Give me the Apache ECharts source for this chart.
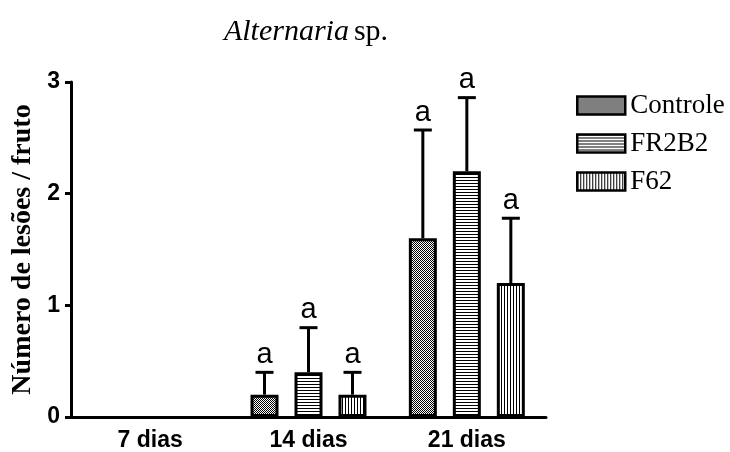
<!DOCTYPE html>
<html>
<head>
<meta charset="utf-8">
<script src="https://cdn.jsdelivr.net/npm/echarts@6/dist/echarts.min.js"></script>
<style>
  html, body { margin: 0; padding: 0; background: #fff; }
  #chart { width: 730px; height: 452px; }
</style>
</head>
<body>
<div id="chart"></div>
<script>
// Lesion counts per fruit, by treatment and day
const categories = ['7 dias', '14 dias', '21 dias'];
const seriesNames = ['Controle', 'FR2B2', 'F62'];
const controle = [0, 0.2, 1.6];
const controleErr = [0, 0.2, 0.97];
const fr2b2 = [0, 0.4, 2.2];
const fr2b2Err = [0, 0.4, 0.66];
const f62 = [0, 0.2, 1.2];
const f62Err = [0, 0.2, 0.58];
const letters = ['', 'a', 'a'];
const yTicks = [0, 1, 2, 3];

const means = [controle, fr2b2, f62];
const errs = [controleErr, fr2b2Err, f62Err];

const SERIF = '"Liberation Serif", "Times New Roman", serif';
const SANS = '"Liberation Sans", Arial, sans-serif';

const BAR_W = 28;
const BAR_GAP = 16 / 28;   // fraction of bar width between neighbouring bars
const STEP = BAR_W * (1 + BAR_GAP);

// Fill patterns for the three treatments
function makePattern(kind) {
  const c = document.createElement('canvas');
  const ctx = c.getContext('2d');
  if (kind === 'check') {
    c.width = 2; c.height = 2;
    ctx.fillStyle = '#fff'; ctx.fillRect(0, 0, 2, 2);
    ctx.fillStyle = '#000';
    ctx.fillRect(0, 0, 1, 1); ctx.fillRect(1, 1, 1, 1);
  } else if (kind === 'hlines') {
    c.width = 4; c.height = 3;
    ctx.fillStyle = '#fff'; ctx.fillRect(0, 0, 4, 3);
    ctx.fillStyle = '#000'; ctx.fillRect(0, 0, 4, 1);
  } else {
    c.width = 3; c.height = 4;
    ctx.fillStyle = '#fff'; ctx.fillRect(0, 0, 3, 4);
    ctx.fillStyle = '#000'; ctx.fillRect(0, 0, 1, 4);
  }
  return { image: c, repeat: 'repeat' };
}
const patterns = [makePattern('check'), makePattern('hlines'), makePattern('vlines')];

const barSeries = seriesNames.map((name, i) => ({
  name: name,
  type: 'bar',
  // empty bars get no outline so nothing is drawn on the axis
  data: means[i].map(v => (v ? v : { value: v, itemStyle: { borderWidth: 0 } })),
  barWidth: BAR_W,
  barGap: (BAR_GAP * 100).toFixed(1) + '%',
  itemStyle: { color: patterns[i], borderColor: '#000', borderWidth: 3 },
  emphasis: { disabled: true },
  z: 2
}));

// Upper error bars with significance letters
const errSeries = seriesNames.map((name, i) => ({
  type: 'custom',
  silent: true,
  z: 3,
  data: categories.map((c, k) => [k, means[i][k], errs[i][k]]),
  renderItem: function (params, api) {
    const k = api.value(0);
    const m = api.value(1);
    const e = api.value(2);
    if (!e) return null;
    const base = api.coord([k, m]);
    const top = api.coord([k, m + e]);
    const x = base[0] + (i - 1) * STEP;
    const style = { stroke: '#000', lineWidth: 3 };
    return {
      type: 'group',
      children: [
        { type: 'line', shape: { x1: x, y1: base[1], x2: x, y2: top[1] }, style: style },
        { type: 'line', shape: { x1: x - 9, y1: top[1], x2: x + 9, y2: top[1] }, style: style },
        { type: 'text', style: {
            x: x, y: top[1] - 3, text: letters[k],
            fill: '#000', font: '29px ' + SANS,
            textAlign: 'center', textVerticalAlign: 'bottom'
          } }
      ]
    };
  }
}));

const chart = echarts.init(document.getElementById('chart'), null, { renderer: 'canvas' });
chart.setOption({
  animation: false,
  backgroundColor: '#fff',
  title: {
    text: '{i|Alternaria} {n|sp.}',
    left: 301, textAlign: 'center', top: 12,
    textStyle: {
      fontWeight: 'normal',
      rich: {
        i: { fontFamily: SERIF, fontStyle: 'italic', fontWeight: 'normal', fontSize: 30, color: '#000' },
        n: { fontFamily: SERIF, fontWeight: 'normal', fontSize: 30, color: '#000' }
      }
    }
  },
  legend: {
    orient: 'vertical',
    left: 576, top: 92,
    padding: 0,
    itemWidth: 48, itemHeight: 18,
    itemGap: 11,
    icon: 'rect',
    data: seriesNames,
    selectedMode: false,
    textStyle: { fontFamily: SERIF, fontSize: 27, color: '#000' },
    itemStyle: { borderWidth: 2.5, borderColor: '#000' }
  },
  grid: { left: 71, right: 184, top: 82, bottom: 34, containLabel: false },
  xAxis: {
    type: 'category',
    data: categories,
    z: 10,
    axisLine: { lineStyle: { color: '#000', width: 3 } },
    axisTick: { alignWithLabel: true, length: 7, lineStyle: { color: '#000', width: 3 } },
    axisLabel: { color: '#000', fontFamily: SANS, fontWeight: 'bold', fontSize: 23, margin: 12 }
  },
  yAxis: {
    type: 'value',
    min: 0, max: 3, interval: 1,
    name: 'Número de lesões / fruto',
    nameLocation: 'middle',
    nameGap: 33,
    nameTextStyle: { fontFamily: SERIF, fontWeight: 'bold', fontSize: 28, color: '#000' },
    splitLine: { show: false },
    axisLine: { show: true, onZero: false, lineStyle: { color: '#000', width: 3 } },
    axisTick: { show: true, length: 6, lineStyle: { color: '#000', width: 3 } },
    axisLabel: {
      color: '#000', fontFamily: SANS, fontWeight: 'bold', fontSize: 23, margin: 11,
      formatter: v => (yTicks.indexOf(v) >= 0 ? String(v) : '')
    }
  },
  series: barSeries.concat(errSeries)
});
</script>
</body>
</html>
